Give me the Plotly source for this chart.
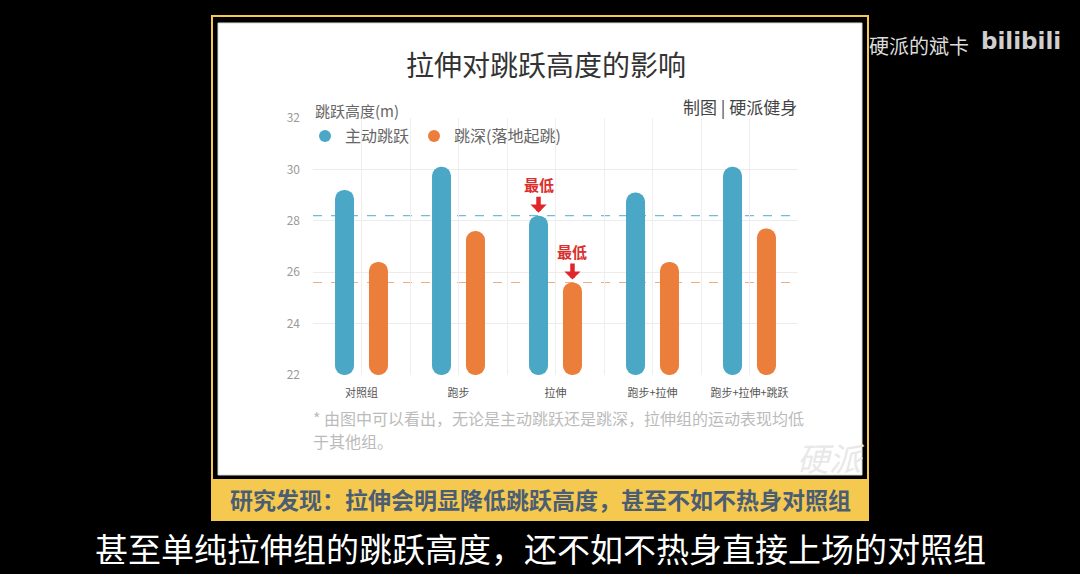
import plotly.graph_objects as go

# ---------------- data ----------------
categories = ['对照组', '跑步', '拉伸', '跑步+拉伸', '跑步+拉伸+跳跃']
active_jump = [29.2, 30.1, 28.2, 29.1, 30.1]      # 主动跳跃
depth_jump = [26.4, 27.6, 25.6, 26.4, 27.7]       # 跳深(落地起跳)
series_names = ['主动跳跃', '跳深(落地起跳)']
y_ticks = [22, 24, 26, 28, 30, 32]

# ---------------- styling ----------------
W, H = 1080, 574
FONT = 'Noto Sans CJK SC, Noto Sans, sans-serif'
BLUE = '#4aa8c6'
ORANGE = '#ec7e3b'
BLUE_DASH = '#72bcd8'
ORANGE_DASH = '#f0ad80'
YELLOW = '#f5c94f'
Y_MIN, Y_MAX = y_ticks[0], y_ticks[-1]

PX_L, PX_R, PX_T, PX_B = 313, 798, 118, 375     # plot area in pixels
N = len(categories)
OFF = 0.175          # bar offset from category centre (category units)
BW = 0.196           # bar width (category units)


def fx(p):
    return p / W


def fy(p):
    return 1 - p / H


fig = go.Figure()
for name, vals, color, sgn in [(series_names[0], active_jump, BLUE, -1),
                               (series_names[1], depth_jump, ORANGE, 1)]:
    xs = [i + sgn * OFF for i in range(N)]
    # pill-shaped bar (explicit base gives rounded ends)
    fig.add_trace(go.Bar(
        x=xs, y=[v - Y_MIN for v in vals], base=Y_MIN, width=BW,
        marker=dict(color=color, cornerradius='50%', line=dict(width=0)),
        showlegend=False, hoverinfo='skip'))
    # legend entry with round symbol
    fig.add_trace(go.Scatter(
        x=[None], y=[None], mode='markers', name=name,
        marker=dict(color=color, size=12, symbol='circle')))

# x ticks: labels at category centres, grid at centres and boundaries
tick_vals, tick_text = [], []
for i in range(N):
    tick_vals += [i - 0.5, i]
    tick_text += ['', categories[i]]
tick_vals.append(N - 0.5)
tick_text.append('')

shapes = []
shapes.append(dict(type='rect', xref='paper', yref='paper', layer='below',
                   x0=fx(212), x1=fx(868), y0=fy(520), y1=fy(16),
                   line=dict(color=YELLOW, width=2), fillcolor='black'))
shapes.append(dict(type='rect', xref='paper', yref='paper', layer='below',
                   x0=fx(218), x1=fx(862), y0=fy(475), y1=fy(23),
                   line=dict(color='#d8d8d8', width=1), fillcolor='white'))
shapes.append(dict(type='rect', xref='paper', yref='paper', layer='below',
                   x0=fx(212), x1=fx(868), y0=fy(520), y1=fy(479),
                   line=dict(width=0), fillcolor=YELLOW))
for val, col in [(min(active_jump), BLUE_DASH), (min(depth_jump), ORANGE_DASH)]:
    shapes.append(dict(type='line', xref='x domain', yref='y', layer='below',
                       x0=0, x1=1, y0=val, y1=val,
                       line=dict(color=col, width=1.2, dash='dash')))


def note(text, x, y, size, color, xanchor='center', yanchor='middle', **kw):
    return dict(text=text, xref='paper', yref='paper', x=fx(x), y=fy(y),
                xanchor=xanchor, yanchor=yanchor, showarrow=False,
                font=dict(size=size, color=color, family=kw.pop('family', FONT)), **kw)


annotations = [
    note('拉伸对跳跃高度的影响', 546, 64, 28, '#333333'),
    note('跳跃高度(m)', 313, 111, 15, '#666666', xanchor='left'),
    note('制图 | 硬派健身', 799, 106, 17, '#444444', xanchor='right'),
    note('* 由图中可以看出，无论是主动跳跃还是跳深，拉伸组的运动表现均低',
         311, 418, 16, '#bbbbbb', xanchor='left'),
    note('于其他组。', 311, 441, 16, '#bbbbbb', xanchor='left'),
    note('<i>硬派</i>', 831, 457, 32, '#e8e8e8'),
    note('<b>研究发现：拉伸会明显降低跳跃高度，甚至不如不热身对照组</b>', 540, 499, 23, '#4b5d73'),
    note('甚至单纯拉伸组的跳跃高度，还不如不热身直接上场的对照组', 540, 548, 33, '#ffffff'),
    note('硬派的斌卡', 867, 45, 20, '#dcdcdc', xanchor='left'),
    note('<b>bilibili</b>', 1021, 41, 23, '#cfcfcf', family='DejaVu Sans'),
]
# lowest markers
for vals, sgn in [(active_jump, -1), (depth_jump, 1)]:
    idx = vals.index(min(vals))
    annotations.append(dict(text='<b>最低</b>', x=idx + sgn * OFF, y=vals[idx],
                            xref='x', yref='y', xanchor='center', yanchor='middle',
                            showarrow=True, ax=0, ay=-31, arrowhead=1,
                            arrowsize=0.6, arrowwidth=4.5, arrowcolor='#e0262a',
                            standoff=3,
                            font=dict(size=15, color='#d9302e', family=FONT)))

fig.update_layout(
    width=W, height=H,
    margin=dict(l=0, r=0, t=0, b=0, pad=0, autoexpand=False),
    paper_bgcolor='black',
    plot_bgcolor='white',
    font=dict(family=FONT),
    barmode='overlay',
    showlegend=True,
    legend=dict(orientation='h', x=fx(305), y=fy(119), xanchor='left', yanchor='top',
                bgcolor='rgba(0,0,0,0)', font=dict(size=16, color='#666666', family=FONT),
                itemsizing='constant', itemclick=False, itemdoubleclick=False),
    xaxis=dict(domain=[fx(PX_L), fx(PX_R)], range=[-0.5, N - 0.5],
               tickmode='array', tickvals=tick_vals, ticktext=tick_text,
               showgrid=True, gridcolor='#efefef', zeroline=False, showline=False,
               ticks='', ticklabelstandoff=10, automargin=False,
               tickfont=dict(size=11, color='#555555', family=FONT)),
    yaxis=dict(domain=[fy(PX_B), fy(PX_T)], range=[Y_MIN, Y_MAX], tickvals=y_ticks,
               showgrid=True, gridcolor='#ececec', zeroline=False, showline=False,
               ticks='', ticklabelstandoff=12, automargin=False,
               tickfont=dict(size=12, color='#9a9a9a', family=FONT)),
    shapes=shapes,
    annotations=annotations,
)

fig.write_html('out.html')
